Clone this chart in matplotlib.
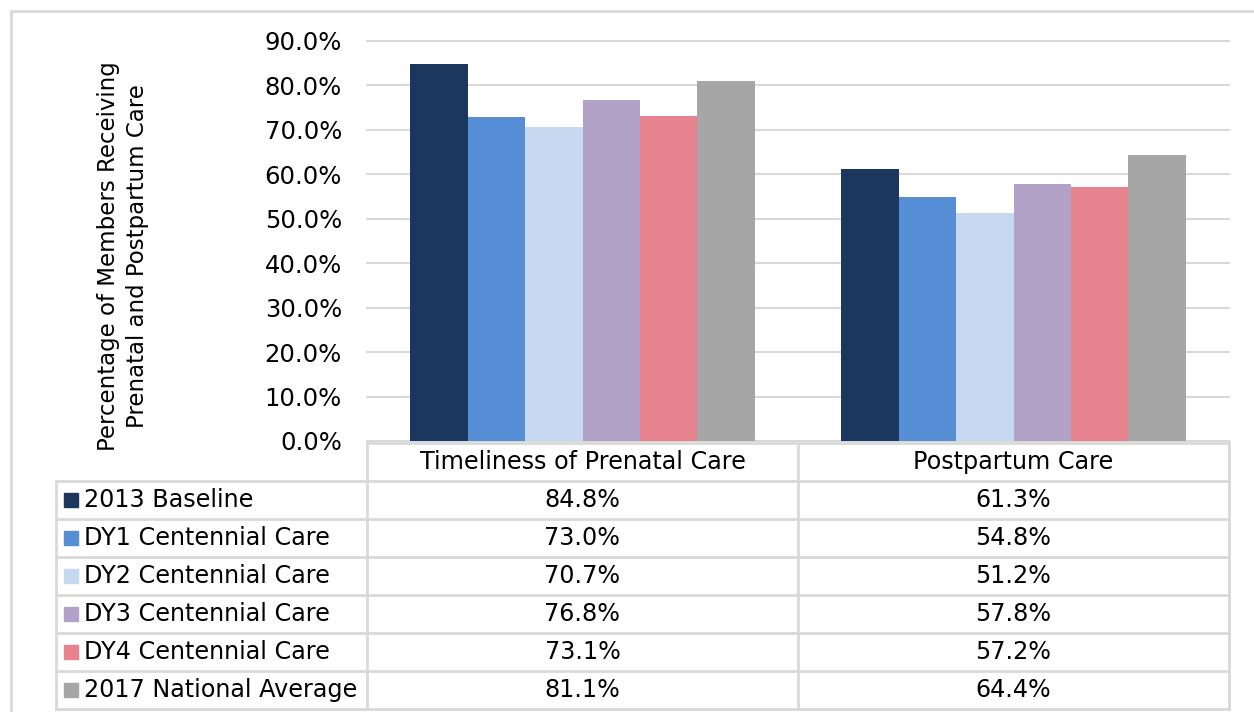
import numpy as np
from matplotlib import pyplot as plt
from matplotlib.patches import Rectangle
from matplotlib.lines import Line2D

categories = ['Timeliness of Prenatal Care', 'Postpartum Care']
series = ['2013 Baseline', 'DY1 Centennial Care', 'DY2 Centennial Care',
          'DY3 Centennial Care', 'DY4 Centennial Care', '2017 National Average']
values = [
    [84.8, 61.3],
    [73.0, 54.8],
    [70.7, 51.2],
    [76.8, 57.8],
    [73.1, 57.2],
    [81.1, 64.4],
]
colors = ['#1b375e', '#558ed5', '#c6d9f1', '#b3a2c7', '#e6838f', '#a6a6a6']
ylabel = 'Percentage of Members Receiving\nPrenatal and Postpartum Care'

W, H = 1254, 712
GRID = '#d9d9d9'
FS = 17.2

plt.rcParams['font.family'] = ['DejaVu Sans']

fig = plt.figure(figsize=(W / 100, H / 100), dpi=100)


def fx(px):
    return px / W


def fy(py):
    return 1 - py / H


# plot area in pixel bounds
left, right, top, bottom = 367, 1229, 41, 441
ax = fig.add_axes([fx(left), fy(bottom), fx(right - left), (bottom - top) / H])

n = len(series)
bw = 0.8 / n
x = np.arange(len(categories))
for i, (name, vals) in enumerate(zip(series, values)):
    ax.bar(x - 0.4 + bw * (i + 0.5), vals, width=bw, color=colors[i], label=name, zorder=3)

ax.set_xlim(-0.5, len(categories) - 0.5)
ax.set_ylim(0, 90)
ax.set_yticks(np.arange(0, 91, 10))
ax.set_yticklabels([f'{v:.1f}%' for v in np.arange(0, 91, 10)], fontsize=17.5)
ax.set_xticks([])
ax.yaxis.grid(True, color=GRID, linewidth=1.5, zorder=0)
for gl in ax.get_ygridlines():
    gl.set_clip_on(False)
ax.tick_params(axis='y', length=0, pad=18)
for s in ['top', 'right', 'left', 'bottom']:
    ax.spines[s].set_visible(False)

fig.text(fx(123), fy(256), ylabel, rotation=90, ha='center', va='center',
         fontsize=16.5, linespacing=1.3, multialignment='center')

# outer frame
fig.add_artist(Rectangle((fx(11), fy(740)), fx(1300), (740 - 11) / H, fill=False,
                         edgecolor=GRID, linewidth=2, transform=fig.transFigure))

# data table below the chart
col_edges = [56, left, (left + right) / 2, right]
row_h = 38
row_top = [443 + row_h * k for k in range(len(series) + 2)]


def hline(y, x0, x1):
    fig.add_artist(Line2D([fx(x0), fx(x1)], [fy(y), fy(y)], color=GRID, linewidth=2,
                          transform=fig.transFigure))


def vline(xp, y0, y1):
    fig.add_artist(Line2D([fx(xp), fx(xp)], [fy(y0), fy(y1)], color=GRID, linewidth=2,
                          transform=fig.transFigure))


hline(row_top[0], col_edges[1], col_edges[3])
for y in row_top[1:]:
    hline(y, col_edges[0], col_edges[3])
vline(col_edges[0], row_top[1], row_top[-1])
for xp in col_edges[1:]:
    vline(xp, row_top[0], row_top[-1])

for j, cat in enumerate(categories):
    cx = (col_edges[j + 1] + col_edges[j + 2]) / 2
    fig.text(fx(cx), fy((row_top[0] + row_top[1]) / 2), cat, ha='center', va='center',
             fontsize=FS)

for i, name in enumerate(series):
    cy = (row_top[i + 1] + row_top[i + 2]) / 2
    fig.add_artist(Rectangle((fx(64), fy(cy + 7)), fx(14), 14 / H, color=colors[i],
                             transform=fig.transFigure))
    fig.text(fx(84), fy(cy), name, ha='left', va='center', fontsize=FS)
    for j in range(len(categories)):
        cx = (col_edges[j + 1] + col_edges[j + 2]) / 2
        fig.text(fx(cx), fy(cy), f'{values[i][j]:.1f}%', ha='center', va='center', fontsize=FS)

fig.savefig('out.png', dpi=100)
